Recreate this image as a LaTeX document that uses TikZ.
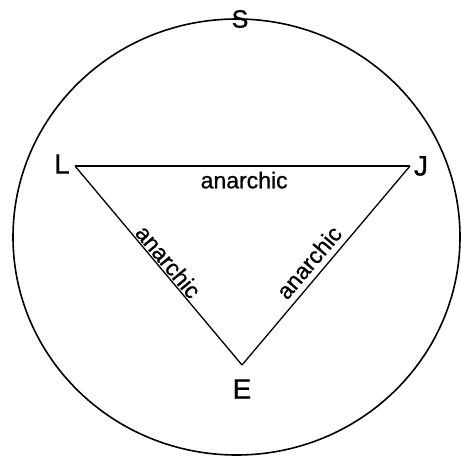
\documentclass[tikz,border=0pt]{standalone}
\usepackage{fontspec}
\setmainfont{Liberation Sans}[FakeBold=0.8]
\usetikzlibrary{positioning}

\begin{document}
\begin{tikzpicture}[
    x=1pt,y=-1pt,
    vtx/.style={font=\fontsize{28}{30}\selectfont,inner sep=0pt},
    lbl/.style={font=\fontsize{23}{25}\selectfont,inner sep=1pt},
    edge/.style={line width=1.3pt}
  ]
    \useasboundingbox (0,0) rectangle (462,460);

    \draw[line width=1.6pt] (236.5,237) ellipse [x radius=223.5pt, y radius=218pt];

    \coordinate (l) at (75,166);
    \coordinate (j) at (410,166);
    \coordinate (e) at (242,365);

    \node[vtx,font=\fontsize{25}{27}\selectfont] (sS) at (240,19) {S};
    \node[vtx] (lL) at (62,164) {L};
    \node[vtx] (jJ) at (421,166) {J};
    \node[vtx] (eE) at (242,389) {E};

    \draw[edge] (l) -- node[lbl,below,inner sep=5pt,pos=0.505] (lj) {anarchic} (j);
    \draw[edge] (l) -- node[lbl,sloped,above,pos=0.513] (le) {anarchic} (e);
    \draw[edge] (e) -- node[lbl,sloped,above,inner sep=6pt,pos=0.467] (ej) {anarchic} (j);
  \end{tikzpicture}
\end{document}
